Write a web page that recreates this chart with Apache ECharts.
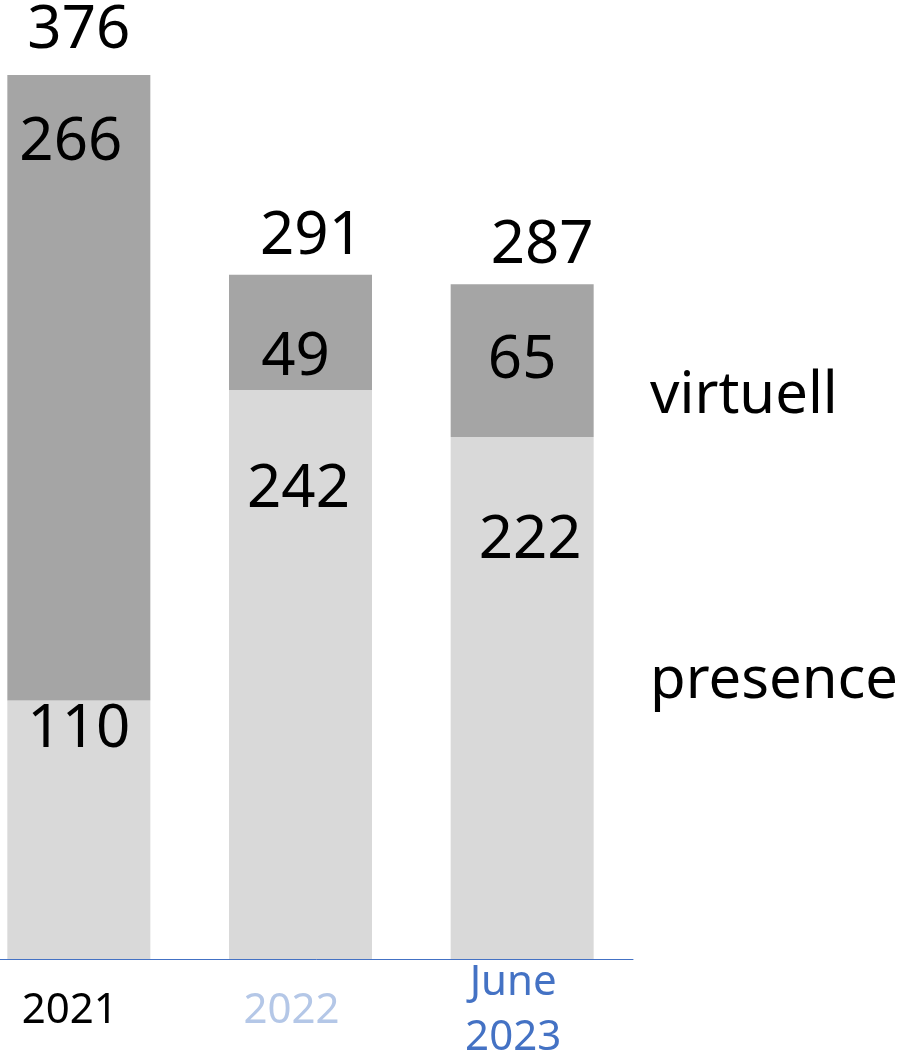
<!DOCTYPE html>
<html>
<head>
<meta charset="utf-8">
<script src="https://cdn.jsdelivr.net/npm/echarts@6/dist/echarts.min.js"></script>
<style>
  html, body { margin: 0; padding: 0; background: #ffffff; }
  #chart { width: 907px; height: 1055px; }
</style>
</head>
<body>
<div id="chart"></div>
<script>
// ---- data ----
var categories = ['2021', '2022', 'June\n2023'];
var presence = [110, 242, 222];
var virtuell = [266, 49, 65];
var seriesNames = ['presence', 'virtuell'];

// ---- style config (label nudges, category label colours) ----
var categoryColors = ['#000000', '#B4C7E7', '#4472C4'];
var presenceLabelShift = [[0, -1], [-2, 69], [8, 73]];
var virtuellLabelShift = [[-8, 37], [-5, 52], [0, 46]];
var totalLabelShift = [[0, -13], [11, -7], [20, -7]];

var totals = presence.map(function (v, i) { return v + virtuell[i]; });
var FONT = '"Noto Sans", "Open Sans", sans-serif';

function withShift(values, shifts) {
  return values.map(function (v, i) {
    return { value: v, label: { offset: shifts[i] } };
  });
}

var labelBase = {
  show: true,
  color: '#000000',
  fontFamily: FONT,
  fontSize: 60,
  lineHeight: 62
};

var chart = echarts.init(document.getElementById('chart'));
chart.setOption({
  animation: false,
  backgroundColor: '#ffffff',
  grid: { left: -32, right: 274, top: 75, bottom: 96, containLabel: false, outerBoundsMode: 'none' },
  legend: {
    data: ['virtuell', 'presence'],
    orient: 'vertical',
    left: 645,
    top: 366,
    padding: 0,
    itemWidth: 0,
    itemHeight: 0,
    itemGap: 225,
    selectedMode: false,
    textStyle: { fontFamily: FONT, fontSize: 58, lineHeight: 60, color: '#000000' }
  },
  xAxis: {
    type: 'category',
    data: categories,
    axisTick: { show: false },
    axisLine: { show: true, lineStyle: { color: '#4472C4', width: 1 } },
    axisLabel: {
      margin: 52,
      verticalAlign: 'middle',
      fontFamily: FONT,
      fontSize: 42,
      lineHeight: 55,
      padding: [0, 18, 0, 0],
      color: function (value, index) { return categoryColors[index]; }
    }
  },
  yAxis: {
    type: 'value',
    min: 0,
    max: 376,
    show: false,
    splitLine: { show: false }
  },
  series: [
    {
      name: seriesNames[0],
      type: 'bar',
      stack: 'all',
      barWidth: 143,
      itemStyle: { color: '#D9D9D9' },
      label: Object.assign({}, labelBase, { position: 'insideTop', distance: 0 }),
      data: withShift(presence, presenceLabelShift)
    },
    {
      name: seriesNames[1],
      type: 'bar',
      stack: 'all',
      barWidth: 143,
      itemStyle: { color: '#A5A5A5' },
      label: Object.assign({}, labelBase, { position: 'insideTop', distance: 0 }),
      data: withShift(virtuell, virtuellLabelShift)
    },
    {
      name: 'total',
      type: 'bar',
      stack: 'all',
      barWidth: 143,
      itemStyle: { color: 'rgba(0,0,0,0)' },
      label: Object.assign({}, labelBase, {
        position: 'top',
        distance: 0,
        formatter: function (p) { return totals[p.dataIndex]; }
      }),
      data: withShift(totals.map(function () { return 0; }), totalLabelShift)
    }
  ]
});
</script>
</body>
</html>
